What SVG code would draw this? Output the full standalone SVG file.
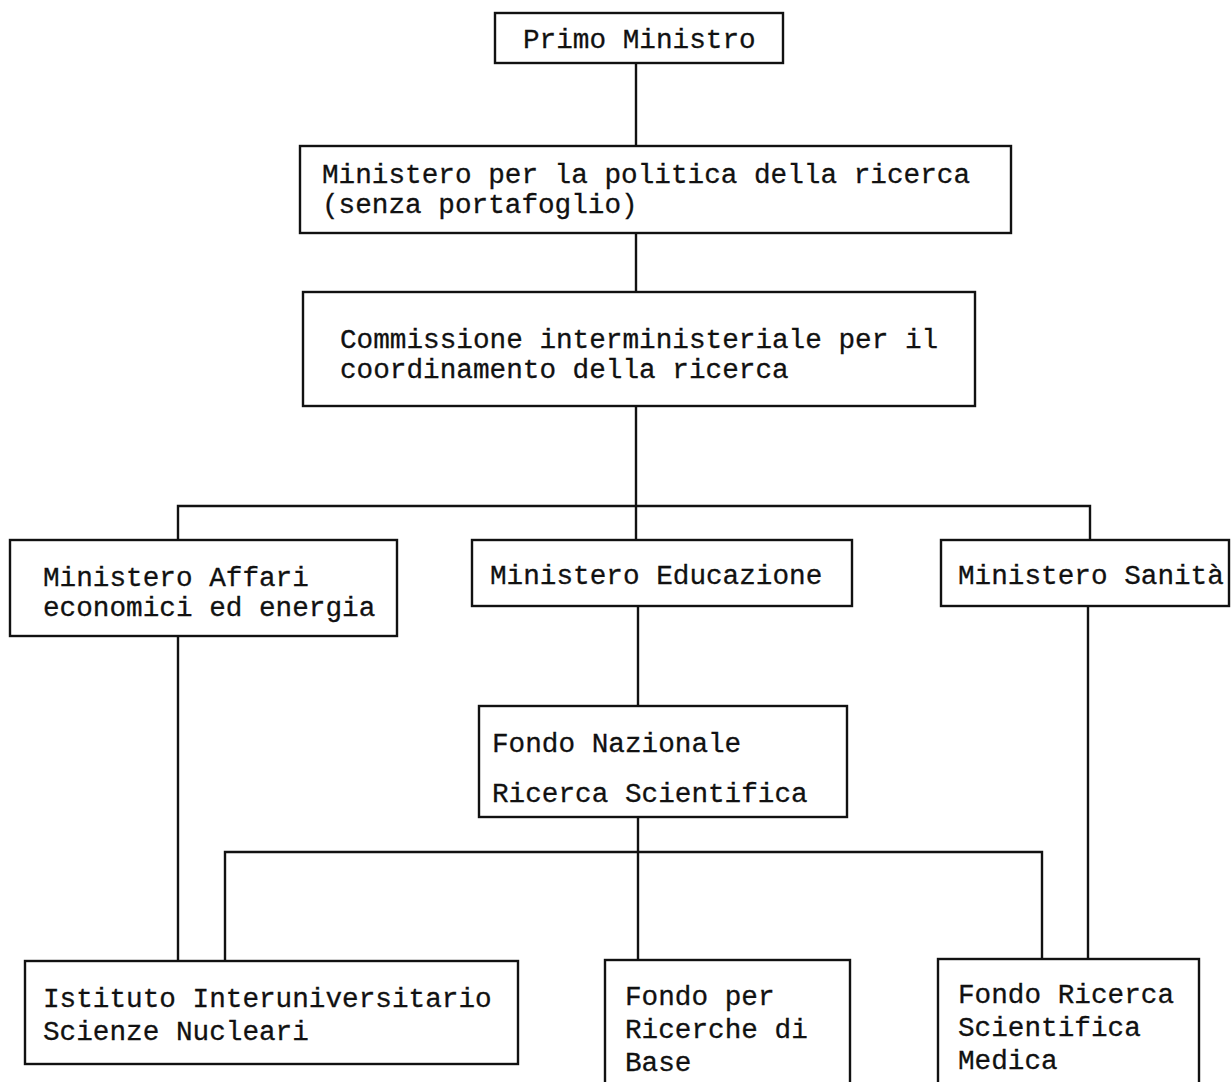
<svg xmlns="http://www.w3.org/2000/svg" width="1231" height="1082" viewBox="0 0 1231 1082">
  <style>
    .box { fill: #fff; stroke: #111; stroke-width: 2.4; }
    .wire { fill: none; stroke: #111; stroke-width: 2.4; }
    .lbl { font-family: "Liberation Mono", "DejaVu Sans Mono", monospace; font-size: 27.7px; fill: #111; stroke: #111; stroke-width: 0.3; }
  </style>
  <rect width="1231" height="1082" fill="#fff"/>

  <!-- connectors -->
  <g id="connectors" class="wire">
    <path d="M636 63 V146"/>
    <path d="M636 233 V292"/>
    <path d="M636 406 V540"/>
    <path d="M178 540 V506 H1090 V540"/>
    <path d="M178 636 V961"/>
    <path d="M638 606 V706"/>
    <path d="M638 817 V960"/>
    <path d="M225 961 V852 H1042 V959"/>
    <path d="M1088 606 V959"/>
  </g>

  <g id="primo-ministro">
    <rect class="box" x="495" y="13" width="288" height="50"/>
    <text class="lbl" x="523" y="48">Primo Ministro</text>
  </g>

  <g id="ministero-politica-ricerca">
    <rect class="box" x="300" y="146" width="711" height="87"/>
    <text class="lbl" x="322" y="183">Ministero per la politica della ricerca</text>
    <text class="lbl" x="322" y="213">(senza portafoglio)</text>
  </g>

  <g id="commissione-interministeriale">
    <rect class="box" x="303" y="292" width="672" height="114"/>
    <text class="lbl" x="340" y="348">Commissione interministeriale per il</text>
    <text class="lbl" x="340" y="378">coordinamento della ricerca</text>
  </g>

  <g id="ministero-affari-economici">
    <rect class="box" x="10" y="540" width="387" height="96"/>
    <text class="lbl" x="43" y="586">Ministero Affari</text>
    <text class="lbl" x="43" y="616">economici ed energia</text>
  </g>

  <g id="ministero-educazione">
    <rect class="box" x="472" y="540" width="380" height="66"/>
    <text class="lbl" x="490" y="584">Ministero Educazione</text>
  </g>

  <g id="ministero-sanita">
    <rect class="box" x="941" y="540" width="288" height="66"/>
    <text class="lbl" x="958" y="584">Ministero Sanità</text>
  </g>

  <g id="fondo-nazionale">
    <rect class="box" x="479" y="706" width="368" height="111"/>
    <text class="lbl" x="492" y="752">Fondo Nazionale</text>
    <text class="lbl" x="492" y="802">Ricerca Scientifica</text>
  </g>

  <g id="istituto-interuniversitario">
    <rect class="box" x="25" y="961" width="493" height="103"/>
    <text class="lbl" x="43" y="1007">Istituto Interuniversitario</text>
    <text class="lbl" x="43" y="1040">Scienze Nucleari</text>
  </g>

  <g id="fondo-ricerche-base">
    <rect class="box" x="605" y="960" width="245" height="140"/>
    <text class="lbl" x="625" y="1005">Fondo per</text>
    <text class="lbl" x="625" y="1038">Ricerche di</text>
    <text class="lbl" x="625" y="1071">Base</text>
  </g>

  <g id="fondo-ricerca-medica">
    <rect class="box" x="938" y="959" width="261" height="141"/>
    <text class="lbl" x="958" y="1003">Fondo Ricerca</text>
    <text class="lbl" x="958" y="1036">Scientifica</text>
    <text class="lbl" x="958" y="1069">Medica</text>
  </g>
</svg>
